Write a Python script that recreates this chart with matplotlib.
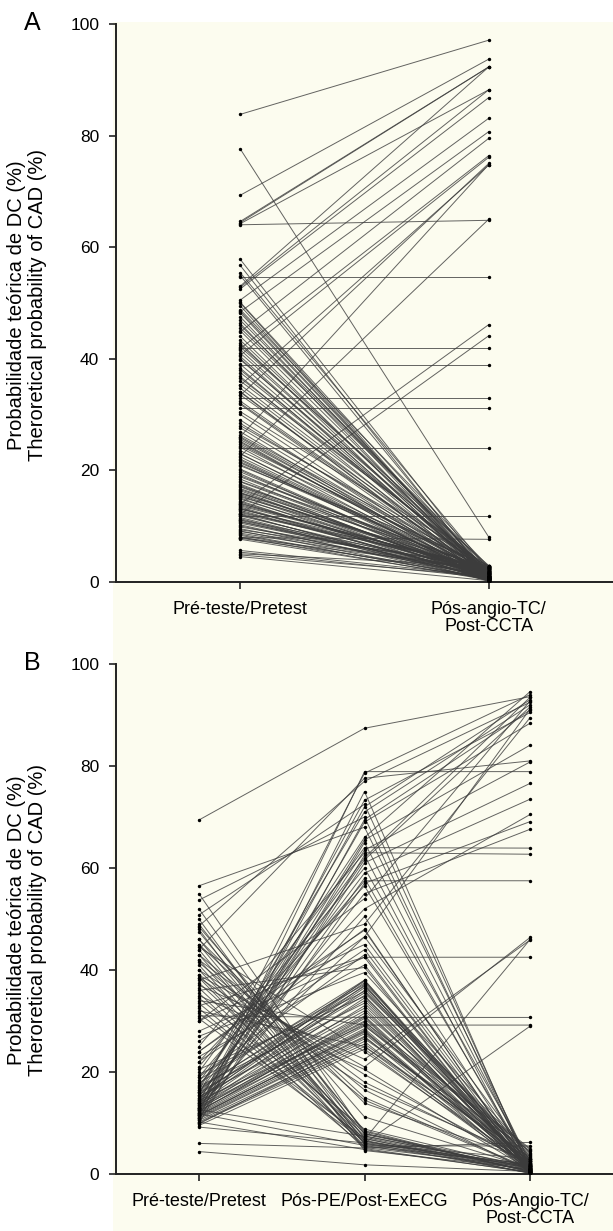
import matplotlib
matplotlib.use("Agg")
import matplotlib.pyplot as plt
from matplotlib.patches import Rectangle

plt.rcParams['font.family'] = ['Liberation Sans', 'DejaVu Sans']

# ---- panel A: pretest -> post-CCTA probability (%) ----
cats_a = ["Pré-teste/Pretest", "Pós-angio-TC/\nPost-CCTA"]
pre_a = [
    83.8, 69.3, 64.6, 64.4, 64.2, 64.0, 77.6, 54.6, 53.0, 52.8,
    52.5, 50.5, 48.4, 44.8, 41.8, 40.6, 35.2, 33.4, 26.0, 22.5,
    41.9, 38.9, 33.0, 31.1, 23.9, 13.9, 12.1, 11.7, 7.9, 57.8,
    56.7, 55.4, 54.9, 50.1, 49.5, 48.8, 48.2, 47.5, 46.9, 46.3,
    45.5, 45.0, 43.3, 42.8, 42.1, 41.6, 41.0, 40.4, 39.8, 39.0,
    38.3, 37.5, 36.8, 36.0, 35.3, 34.7, 34.1, 33.5, 32.4, 31.8,
    30.5, 29.0, 28.4, 27.6, 26.9, 26.3, 25.8, 25.2, 24.7, 24.1,
    23.5, 22.9, 22.4, 21.8, 21.3, 20.8, 20.2, 19.7, 19.3, 18.8,
    18.4, 17.9, 17.5, 17.1, 16.7, 16.3, 15.9, 15.6, 15.2, 14.8,
    14.5, 14.1, 13.8, 13.4, 13.1, 12.8, 12.4, 12.1, 11.8, 11.5,
    11.1, 10.8, 10.5, 10.2, 9.8, 9.5, 9.1, 8.7, 8.3, 7.9,
    7.6, 5.6, 5.0, 4.5, 25.5, 25.0, 24.4, 22.0, 21.0, 20.0,
    18.0, 17.0, 16.0, 15.0, 14.0, 13.0, 12.0, 11.0, 10.0, 9.0,
    8.0, 16.5, 15.4, 13.6, 12.6, 11.3, 10.7, 9.3, 8.5, 7.8,
    14.3, 12.2, 13.2, 15.8, 17.3, 19.0, 21.5, 23.0, 26.0, 28.0,
    30.0, 32.0, 34.0, 36.5, 38.0, 40.0, 42.5, 44.0, 46.0, 48.5,
    50.0, 4.8, 5.3,
]
post_a = [
    97.1, 93.7, 92.3, 92.3, 88.2, 64.8, 8.0, 54.6, 92.3, 88.2,
    86.8, 83.1, 80.7, 79.5, 76.4, 76.1, 74.7, 75.0, 74.8, 65.0,
    41.9, 38.9, 33.0, 31.1, 23.9, 46.1, 44.1, 11.7, 7.6, 1.2,
    0.4, 2.1, 0.8, 1.5, 0.2, 2.7, 1.0, 0.6, 1.8, 0.3,
    2.4, 0.9, 1.3, 0.1, 2.9, 0.7, 1.6, 0.4, 2.2, 1.1,
    0.5, 1.9, 0.2, 2.6, 1.4, 0.8, 0.3, 2.0, 1.2, 0.6,
    2.8, 0.4, 1.7, 0.9, 0.2, 2.3, 1.0, 0.5, 1.5, 0.1,
    2.5, 1.3, 0.7, 0.3, 1.8, 2.9, 0.6, 1.1, 0.2, 2.1,
    0.8, 1.6, 0.4, 2.4, 1.0, 0.3, 1.9, 0.7, 2.7, 1.4,
    0.2, 1.2, 2.2, 0.5, 1.7, 0.9, 2.6, 0.1, 1.3, 0.6,
    2.0, 0.8, 1.5, 0.3, 2.5, 1.1, 0.4, 1.8, 0.7, 2.3,
    0.5, 1.0, 2.8, 0.2, 1.4, 0.6, 2.1, 0.9, 1.6, 0.3,
    2.4, 0.7, 1.2, 0.1, 1.9, 2.6, 0.4, 1.0, 0.8, 2.0,
    0.3, 1.5, 0.6, 2.2, 1.1, 0.2, 1.7, 2.9, 0.5, 1.3,
    0.9, 2.5, 0.4, 1.6, 0.7, 2.1, 1.0, 0.3, 1.8, 2.7,
    0.6, 1.2, 0.2, 2.3, 1.4, 0.8, 1.9, 0.5, 2.6, 1.1,
    0.4, 1.0, 0.7,
]

# ---- panel B: pretest -> post-ExECG -> post-CCTA probability (%) ----
cats_b = ["Pré-teste/Pretest", "Pós-PE/Post-ExECG", "Pós-Angio-TC/\nPost-CCTA"]
pre_b = [
    69.4,
    12.0, 15.5, 44.0, 48.6, 11.0, 14.0, 50.8, 13.0, 16.5, 53.7,
    10.5, 12.5, 56.5, 17.0, 13.5, 11.5, 20.0, 14.5, 25.0, 10.0,
    18.0, 15.0, 12.0, 21.0, 16.0, 13.0, 19.0, 11.0, 22.0, 14.0,
    30.0, 17.5, 12.8, 38.0, 24.0, 16.0,
    11.0, 11.5, 12.0, 12.3, 12.7, 13.0, 13.4, 13.8, 14.2, 14.6,
    15.0, 15.5, 16.0, 10.5, 10.8, 11.2, 11.8, 12.5, 13.2, 14.0,
    14.8, 15.8, 16.5, 17.2, 10.2, 11.4, 12.9, 13.6, 15.2, 16.8,
    9.5, 10.0, 11.6, 12.2, 14.4, 9.8, 17.8, 18.5, 19.5, 20.5,
    47.5, 46.0, 45.0, 44.0, 43.0, 42.0, 41.0, 40.0, 39.0, 38.5,
    37.5, 36.5, 35.5, 34.5, 33.5, 32.5, 31.5, 30.5, 11.8, 10.2,
    12.6, 9.2, 55.0, 52.0, 50.0, 49.0, 48.0, 6.0, 4.4,
    26.0, 30.0, 33.0, 36.0, 39.0, 42.0, 45.0, 22.0, 24.0, 28.0,
    31.0, 34.0, 37.0, 40.0, 43.0, 46.0, 48.5, 23.0, 27.0, 32.0,
    35.0, 38.5, 41.5, 44.5, 19.0,
]
exe_b = [
    87.4,
    78.9, 78.6, 77.6, 77.0, 75.0, 73.3, 72.5, 72.0, 71.0, 70.0,
    69.5, 69.0, 68.0, 66.0, 65.5, 65.0, 64.0, 63.5, 63.0, 62.5,
    62.0, 61.6, 61.0, 60.0, 59.0, 58.0, 57.5, 57.0, 56.5, 55.0,
    54.0, 52.0, 50.5, 49.0, 48.0, 46.5,
    27.0, 28.0, 29.5, 30.5, 31.5, 33.0, 34.5, 36.0, 37.0, 38.0,
    36.5, 37.5, 35.0, 26.0, 26.8, 27.5, 28.5, 29.0, 30.0, 32.0,
    34.0, 35.5, 37.8, 33.5, 25.5, 28.2, 29.8, 31.0, 32.5, 36.8,
    24.5, 25.0, 27.8, 30.8, 29.2, 26.5, 38.0, 37.2, 35.8, 34.8,
    8.5, 7.8, 6.5, 5.8, 7.2, 6.0, 5.2, 8.0, 6.8, 5.5,
    7.5, 6.2, 5.0, 8.8, 6.6, 5.4, 7.0, 6.4, 5.6, 4.8,
    7.4, 6.1, 7.9, 6.9, 5.9, 8.3, 4.6, 5.1, 1.8,
    47.8, 45.0, 42.5, 40.5, 21.0, 18.0, 15.0, 44.0, 46.5, 42.5,
    30.7, 29.2, 22.5, 19.5, 16.5, 13.9, 11.2, 41.0, 39.5, 25.0,
    20.5, 17.2, 14.5, 24.0, 43.0,
]
ccta_b = [
    93.6,
    78.9, 94.0, 81.0, 92.5, 0.5, 90.5, 1.2, 93.0, 92.0, 0.8,
    91.0, 88.4, 2.0, 94.6, 84.1, 1.5, 63.9, 80.8, 62.7, 0.3,
    93.5, 91.6, 76.6, 2.5, 73.5, 0.9, 57.5, 69.1, 1.8, 67.6,
    92.8, 70.5, 1.1, 89.5, 0.4, 91.2,
    0.5, 1.2, 2.4, 0.8, 3.5, 1.6, 0.3, 4.2, 1.0, 2.0,
    0.6, 2.8, 1.4, 0.2, 3.0, 1.8, 0.9, 4.8, 0.4, 2.2,
    1.1, 3.8, 0.7, 1.5, 2.6, 0.1, 5.0, 1.3, 0.5, 2.9,
    0.8, 3.3, 1.7, 0.3, 2.1, 4.5, 1.0, 0.6, 2.5, 1.9,
    0.4, 1.0, 0.2, 1.6, 0.7, 29.0, 1.3, 0.5, 46.0, 5.5,
    0.9, 1.8, 0.3, 1.1, 0.6, 2.0, 0.1, 1.4, 0.8, 0.4,
    1.2, 0.2, 1.5, 0.7, 3.0, 0.3, 1.0, 6.2, 0.5,
    0.6, 1.5, 42.5, 0.3, 46.4, 2.2, 1.0, 0.8, 3.2, 0.4,
    30.7, 29.2, 45.9, 1.8, 0.5, 2.6, 1.2, 0.2, 4.0, 1.4,
    0.7, 2.9, 0.9, 1.6, 0.3,
]

W, H = 613, 1231
fig = plt.figure(figsize=(W / 100, H / 100), dpi=100)
fig.patch.set_facecolor('white')
# beige panel behind both plots
fig.patches.append(Rectangle((113 / W, 0), 1 - 113 / W, 1 - 22 / H,
                             transform=fig.transFigure, facecolor='#fcfcef',
                             edgecolor='none', zorder=-10))

line_kw = dict(color='#3c3c3c', lw=0.7, alpha=0.8, zorder=2)
dot_kw = dict(color='black', s=6, zorder=3, linewidths=0)


def style(ax, cats):
    ax.set_facecolor('none')
    ax.set_ylim(0, 100)
    ax.set_xlim(-0.5, len(cats) - 0.5)
    ax.set_yticks([0, 20, 40, 60, 80, 100])
    ax.set_xticks(range(len(cats)))
    ax.set_xticklabels(cats, fontsize=13, linespacing=1.0)
    ax.tick_params(axis='y', labelsize=12.5, length=5, width=1.2, pad=7, color='#222222')
    ax.tick_params(axis='x', length=5, width=1.2, pad=9, color='#222222')
    for s in ['top', 'right']:
        ax.spines[s].set_visible(False)
    for s in ['left', 'bottom']:
        ax.spines[s].set_linewidth(1.4)
        ax.spines[s].set_color('#222222')


# panel A
axA = fig.add_axes([116 / W, 1 - 581.7 / H, (W - 116) / W, (581.7 - 24) / H])
for a, b in zip(pre_a, post_a):
    axA.plot([0, 1], [a, b], **line_kw)
axA.scatter([0] * len(pre_a), pre_a, **dot_kw)
axA.scatter([1] * len(post_a), post_a, **dot_kw)
style(axA, cats_a)

# panel B
axB = fig.add_axes([116 / W, 1 - 1174 / H, (W - 116) / W, (1174 - 664) / H])
for a, b, c in zip(pre_b, exe_b, ccta_b):
    axB.plot([0, 1, 2], [a, b, c], **line_kw)
axB.scatter([0] * len(pre_b), pre_b, **dot_kw)
axB.scatter([1] * len(exe_b), exe_b, **dot_kw)
axB.scatter([2] * len(ccta_b), ccta_b, **dot_kw)
style(axB, cats_b)

ylab = "Probabilidade teórica de DC (%)\nTheroretical probability of CAD (%)"
fig.text(27 / W, 1 - 305 / H, ylab, rotation=90, ha='center', va='center',
         fontsize=14.5, linespacing=1.15)
fig.text(27 / W, 1 - 920 / H, ylab, rotation=90, ha='center', va='center',
         fontsize=14.5, linespacing=1.15)
fig.text(32 / W, 1 - 23 / H, "A", fontsize=18, ha='center', va='center')
fig.text(32 / W, 1 - 663 / H, "B", fontsize=18, ha='center', va='center')

fig.savefig("out.png", dpi=100)
